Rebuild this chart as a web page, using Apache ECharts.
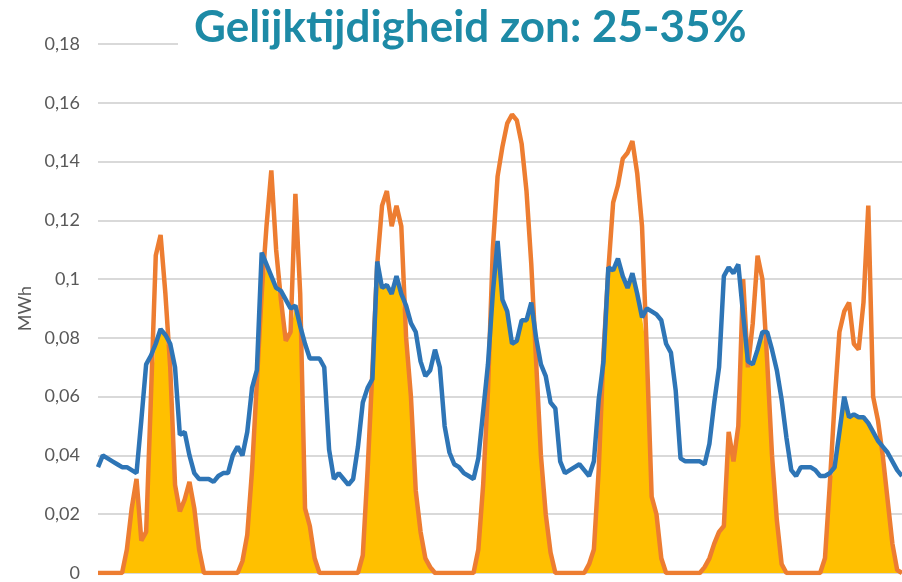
<!DOCTYPE html>
<html>
<head>
<meta charset="utf-8">
<script src="https://cdn.jsdelivr.net/npm/echarts@6/dist/echarts.min.js"></script>
<style>
  html, body { margin: 0; padding: 0; background: #fff; }
  #chart { width: 902px; height: 582px; }
</style>
</head>
<body>
<div id="chart"></div>
<script>
// hourly values over one week (MWh)
var opwek = [
  0, 0, 0, 0, 0, 0, 0.008, 0.022, 0.032, 0.011, 0.014, 0.060, 0.108, 0.115, 0.095, 0.070, 0.030, 0.021, 0.025, 0.031, 0.022, 0.008, 0, 0,
  0, 0, 0, 0, 0, 0, 0.004, 0.013, 0.035, 0.065, 0.095, 0.118, 0.137, 0.110, 0.093, 0.079, 0.082, 0.129, 0.095, 0.022, 0.016, 0.005, 0, 0,
  0, 0, 0, 0, 0, 0, 0, 0.006, 0.035, 0.069, 0.105, 0.125, 0.130, 0.118, 0.125, 0.118, 0.080, 0.060, 0.028, 0.014, 0.005, 0.002, 0, 0,
  0, 0, 0, 0, 0, 0, 0, 0.008, 0.030, 0.062, 0.110, 0.135, 0.145, 0.153, 0.156, 0.154, 0.146, 0.130, 0.105, 0.072, 0.040, 0.020, 0.007, 0,
  0, 0, 0, 0, 0, 0, 0.003, 0.008, 0.035, 0.075, 0.103, 0.126, 0.132, 0.141, 0.143, 0.147, 0.136, 0.118, 0.075, 0.026, 0.020, 0.005, 0, 0,
  0, 0, 0, 0, 0, 0, 0.002, 0.005, 0.010, 0.014, 0.016, 0.048, 0.038, 0.050, 0.100, 0.070, 0.085, 0.108, 0.100, 0.072, 0.040, 0.018, 0.003, 0,
  0, 0, 0, 0, 0, 0, 0, 0.005, 0.030, 0.058, 0.082, 0.089, 0.092, 0.078, 0.076, 0.092, 0.125, 0.060, 0.052, 0.040, 0.025, 0.010, 0.001, 0
];

var verbruik = [
  0.036, 0.040, 0.039, 0.038, 0.037, 0.036, 0.036, 0.035, 0.034, 0.052, 0.071, 0.074, 0.078, 0.083, 0.081, 0.078, 0.070, 0.047, 0.048, 0.040, 0.034, 0.032, 0.032, 0.032,
  0.031, 0.033, 0.034, 0.034, 0.040, 0.043, 0.040, 0.048, 0.063, 0.069, 0.109, 0.105, 0.101, 0.097, 0.096, 0.093, 0.090, 0.091, 0.084, 0.078, 0.073, 0.073, 0.073, 0.070,
  0.042, 0.032, 0.034, 0.032, 0.030, 0.032, 0.043, 0.058, 0.063, 0.066, 0.106, 0.097, 0.098, 0.095, 0.101, 0.095, 0.091, 0.085, 0.082, 0.072, 0.067, 0.069, 0.076, 0.070,
  0.050, 0.041, 0.037, 0.036, 0.034, 0.033, 0.032, 0.039, 0.055, 0.071, 0.095, 0.113, 0.093, 0.089, 0.078, 0.079, 0.086, 0.086, 0.092, 0.080, 0.071, 0.067, 0.058, 0.056,
  0.038, 0.034, 0.035, 0.036, 0.037, 0.035, 0.033, 0.038, 0.059, 0.072, 0.104, 0.103, 0.107, 0.101, 0.097, 0.102, 0.095, 0.087, 0.090, 0.089, 0.088, 0.086, 0.078, 0.075,
  0.062, 0.039, 0.038, 0.038, 0.038, 0.038, 0.037, 0.044, 0.058, 0.070, 0.101, 0.104, 0.102, 0.105, 0.088, 0.072, 0.071, 0.076, 0.082, 0.082, 0.076, 0.069, 0.059, 0.046,
  0.035, 0.033, 0.036, 0.036, 0.036, 0.035, 0.033, 0.033, 0.034, 0.036, 0.048, 0.060, 0.053, 0.054, 0.053, 0.053, 0.051, 0.048, 0.045, 0.043, 0.041, 0.038, 0.035, 0.033
];

var uren = opwek.map(function (v, i) { return i + 1; });

// gelijktijdig deel = minimum van opwek en verbruik
var gelijktijdig = opwek.map(function (v, i) { return Math.min(v, verbruik[i]); });

var chartDom = document.getElementById('chart');
var myChart = echarts.init(chartDom);
var option;

function fmt(v) {
  var s = v.toFixed(2).replace(/0+$/, '').replace(/\.$/, '');
  return s.replace('.', ',');
}

option = {
  animation: false,
  backgroundColor: '#fff',
  title: {
    text: 'Gelijktijdigheid zon: 25-35%',
    left: 178,
    top: 5,
    padding: [1, 320, 6, 16],
    backgroundColor: '#fff',
    textStyle: {
      color: '#1D8AA6',
      fontFamily: 'Lato',
      fontWeight: 'bold',
      fontSize: 44
    }
  },
  grid: {
    left: 98,
    right: 0,
    top: 44,
    bottom: 9,
    containLabel: false
  },
  xAxis: {
    type: 'category',
    data: uren,
    boundaryGap: false,
    axisLine: { show: false },
    axisTick: { show: false },
    axisLabel: { show: false },
    splitLine: { show: false }
  },
  yAxis: {
    type: 'value',
    min: 0,
    max: 0.18,
    interval: 0.02,
    name: 'MWh',
    nameLocation: 'middle',
    nameRotate: 90,
    nameGap: 62,
    nameTextStyle: { color: '#595959', fontSize: 18, fontFamily: 'Lato' },
    axisLine: { show: false },
    axisTick: { show: false },
    axisLabel: {
      color: '#595959',
      fontSize: 18,
      fontFamily: 'Lato',
      margin: 18,
      formatter: fmt
    },
    splitLine: { lineStyle: { color: '#D9D9D9', width: 2 } }
  },
  series: [
    {
      name: 'Gelijktijdig',
      type: 'line',
      data: gelijktijdig,
      symbol: 'none',
      lineStyle: { width: 0 },
      areaStyle: { color: '#FFC000', opacity: 1 },
      z: 1
    },
    {
      name: 'Opwek zon',
      type: 'line',
      data: opwek,
      symbol: 'none',
      lineStyle: { color: '#ED7D31', width: 4.5 },
      z: 2
    },
    {
      name: 'Verbruik',
      type: 'line',
      data: verbruik,
      symbol: 'none',
      lineStyle: { color: '#2E75B6', width: 4.5 },
      z: 3
    }
  ]
};

option && myChart.setOption(option);
</script>
</body>
</html>
